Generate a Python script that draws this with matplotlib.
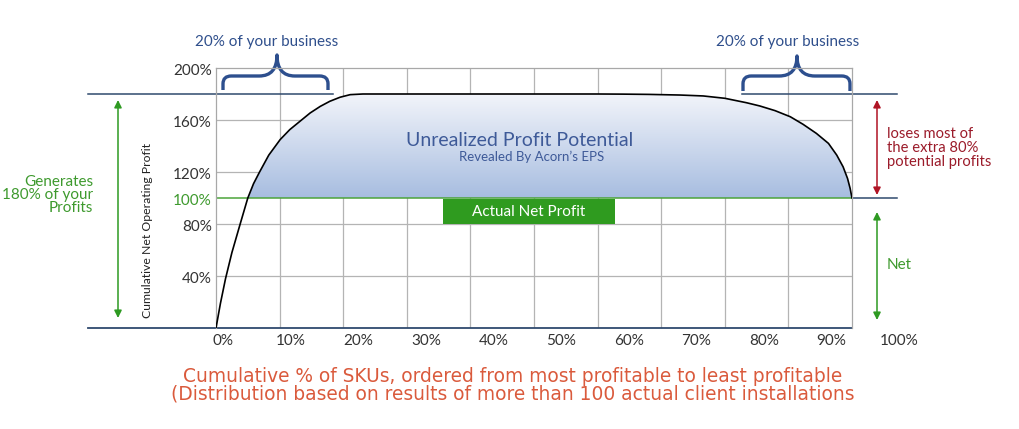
import matplotlib
matplotlib.use("Agg")
import matplotlib.pyplot as plt
from matplotlib.path import Path
from matplotlib.patches import PathPatch, Rectangle
from matplotlib.colors import LinearSegmentedColormap
import numpy as np

# ---------------- data ----------------
# cumulative % of SKUs (grid units 0..100) and cumulative net operating profit (%)
sku_pct = [0, 0.7, 1.5, 2.5, 3.8, 5.0, 5.9, 6.85, 8.3, 10.1, 11.6, 13.2, 14.8,
           16.4, 17.9, 19.5, 21.1, 23.1, 26, 30, 40, 50, 60, 64, 68, 73, 76.6,
           80, 83.4, 85.5, 87.9, 90.3, 92.3, 94.4, 96.3, 97.6, 98.6, 99.3, 99.7,
           100]
profit_pct = [0, 19, 38, 58, 80, 100, 111, 120, 133, 145, 152.6, 159, 165.4,
              170.5, 174.4, 177.5, 179.5, 180, 180, 180, 180, 180, 180, 179.9,
              179.7, 179.2, 178.5, 176.7, 173.3, 170.8, 167.2, 162.5, 156.7,
              149.7, 142, 133, 124, 115, 107.5, 100]
x_tick_values = [0, 10, 20, 30, 40, 50, 60, 70, 80, 90, 100]
x_tick_labels = ["0%", "10%", "20%", "30%", "40%", "50%", "60%", "70%", "80%", "90%", "100%"]
y_tick_values = [40, 80, 100, 120, 160, 200]
y_tick_labels = ["40%", "80%", "100%", "120%", "160%", "200%"]
y_grid_values = [40, 80, 120, 160]
x_grid_values = [10, 20, 30, 40, 50, 60, 70, 80, 90]
net_level = 100
peak_level = 180
actual_box = (35.7, 62.7, 80, 99.2)   # x0, x1, y0, y1

# ---------------- layout ----------------
W, H = 1020, 429
L, R, T, B = 216, 852, 68, 328
FONT = "Lato"
plt.rcParams["font.family"] = [FONT, "DejaVu Sans"]

fig = plt.figure(figsize=(W / 100, H / 100), dpi=100)
fig.patch.set_facecolor("white")
ax = fig.add_axes([L / W, 1 - B / H, (R - L) / W, (B - T) / H])
ax.set_xlim(0, 100)
ax.set_ylim(0, 200)
ax.set_xticks([])
ax.set_yticks([])
for s in ["top", "right", "left"]:
    ax.spines[s].set_color("#A8A8A8")
    ax.spines[s].set_linewidth(0.9)
ax.spines["bottom"].set_visible(False)

def X(px):
    return (px - L) / ((R - L) / 100)

def Y(py):
    return (B - py) / ((B - T) / 200)

DARK = "#2F4A6E"
GRID = "#B4B4B4"
GREEN_T = "#3E9A2E"
GREEN_A = "#2E9A22"
RED_T = "#9B1B2A"
RED_A = "#B01425"
BLUE_T = "#2F4F8C"
ORANGE = "#DA5A3C"

# grid
for gx in x_grid_values:
    ax.axvline(gx, color=GRID, lw=0.9, zorder=0.5)
for gy in y_grid_values:
    ax.axhline(gy, color=GRID, lw=0.9, zorder=0.5)

# gradient fill between curve and net level
xs = np.array(sku_pct, float)
ys = np.array(profit_pct, float)
poly = ax.fill_between(xs, net_level, ys, where=ys >= net_level, interpolate=True,
                       facecolor="none", edgecolor="none")
cmap = LinearSegmentedColormap.from_list("g", ["#A7BDE0", "#F2F4FA"])
grad = np.linspace(0, 1, 256).reshape(-1, 1)
im = ax.imshow(grad, extent=[0, 100, net_level, peak_level], origin="lower",
               aspect="auto", cmap=cmap, zorder=1, interpolation="bicubic")
im.set_clip_path(poly.get_paths()[0], transform=ax.transData)
ax.set_xlim(0, 100)
ax.set_ylim(0, 200)

# horizontal reference lines
ax.plot([0, 100], [net_level, net_level], color="#4CA43A", lw=1.1, zorder=2)
ax.plot([100, X(897)], [net_level, net_level], color=DARK, lw=1.1, zorder=2, clip_on=False)
ax.plot([X(88), 100], [0, 0], color=DARK, lw=1.3, zorder=2, clip_on=False)
ax.plot([X(88), X(333)], [peak_level, peak_level], color=DARK, lw=1.1, zorder=2, clip_on=False)
ax.plot([X(742), X(897)], [peak_level, peak_level], color=DARK, lw=1.1, zorder=2, clip_on=False)

# curve
ax.plot(xs, ys, color="black", lw=1.2, zorder=3, solid_capstyle="round",
        solid_joinstyle="round")

# tick labels
for v, lab in zip(x_tick_values, x_tick_labels):
    pos = 1.1 + 1.063 * v
    ax.text(pos, Y(341), lab, ha="center", va="center", fontsize=11,
            color="#333333", clip_on=False)
for v, lab in zip(y_tick_values, y_tick_labels):
    ax.text(X(212), v - 2.3, lab, ha="right", va="center", fontsize=11,
            color=GREEN_T if v == net_level else "#333333", clip_on=False)

# y axis title
ax.text(X(148), Y(230), "Cumulative Net Operating Profit", rotation=90,
        ha="center", va="center", fontsize=8.8, color="#222222", clip_on=False)

# arrows
def darrow(x, y0, y1, color):
    ax.annotate("", xy=(x, y0), xytext=(x, y1),
                arrowprops=dict(arrowstyle="<|-|>", color=color, lw=1.1,
                                mutation_scale=11, shrinkA=0, shrinkB=0),
                annotation_clip=False)

darrow(X(118), Y(100), Y(318), GREEN_A)
darrow(X(877), Y(100), Y(195), RED_A)
darrow(X(877), Y(212), Y(320), GREEN_A)

ax.text(X(93), Y(195), "Generates\n180% of your\nProfits", ha="right", va="center",
        fontsize=11, color=GREEN_T, linespacing=0.95, clip_on=False)
ax.text(X(887), Y(148), "loses most of\nthe extra 80%\npotential profits", ha="left",
        va="center", fontsize=10.6, color=RED_T, linespacing=0.98, clip_on=False)
ax.text(X(887), Y(265), "Net", ha="left", va="center", fontsize=11,
        color=GREEN_T, clip_on=False)

# braces
def brace(x0, x1, xt, yb, yh, ytip, color):
    rx, ry, kx = 1.3, 6.0, 2.8
    verts = [(x0, yb), (x0, yh - ry), (x0, yh), (x0 + rx, yh),
             (xt - kx, yh), (xt, yh), (xt, ytip),
             (xt, yh), (xt + kx, yh),
             (x1 - rx, yh), (x1, yh), (x1, yh - ry), (x1, yb)]
    codes = [Path.MOVETO, Path.LINETO, Path.CURVE3, Path.CURVE3,
             Path.LINETO, Path.CURVE3, Path.CURVE3,
             Path.CURVE3, Path.CURVE3,
             Path.LINETO, Path.CURVE3, Path.CURVE3, Path.LINETO]
    ax.add_patch(PathPatch(Path(verts, codes), facecolor="none", edgecolor=color,
                           lw=2.4, clip_on=False, capstyle="butt", joinstyle="round"))

brace(X(223), X(328), X(277), Y(90), Y(76), Y(55), "#2D4F8E")
brace(X(743), X(850), X(797), Y(91), Y(76), Y(56), "#2D4F8E")

ax.text(X(267), Y(42), "20% of your business", ha="center", va="center",
        fontsize=11, color=BLUE_T, clip_on=False)
ax.text(X(788), Y(42), "20% of your business", ha="center", va="center",
        fontsize=11, color=BLUE_T, clip_on=False)

# centre labels
ax.text(X(520), Y(141), "Unrealized Profit Potential", ha="center", va="center",
        fontsize=14, color="#3E5A98", zorder=4)
ax.text(X(532), Y(157), "Revealed By Acorn\u2019s EPS", ha="center", va="center",
        fontsize=9.5, color="#3E5A98", zorder=4)

bx0, bx1, by0, by1 = actual_box
ax.add_patch(Rectangle((bx0, by0), bx1 - bx0, by1 - by0, facecolor="#2F9B1F",
                       edgecolor="none", zorder=4))
ax.text((bx0 + bx1) / 2, (by0 + by1) / 2, "Actual Net Profit", ha="center",
        va="center", fontsize=11, color="white", zorder=5)

# bottom caption
cap_kw = dict(ha="center", va="center", fontsize=13.4, color=ORANGE,
              family=["DejaVu Sans"])
fig.text(513 / W, 1 - 377 / H,
         "Cumulative % of SKUs, ordered from most profitable to least profitable",
         **cap_kw)
fig.text(513 / W, 1 - 394 / H,
         "(Distribution based on results of more than 100 actual client installations",
         **cap_kw)

fig.savefig("out.png", dpi=100, facecolor="white")
